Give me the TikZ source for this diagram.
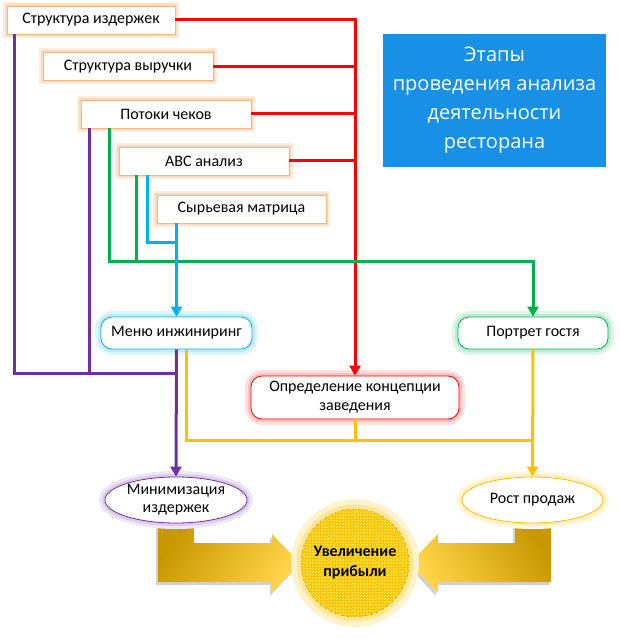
\documentclass[tikz,border=0pt]{standalone}
\usepackage{fontspec}
\setmainfont{Carlito}
\newfontfamily\titlefont{Open Sans}
\usetikzlibrary{arrows.meta,patterns,calc,shapes.geometric}
\definecolor{cOrange}{HTML}{F79646}
\definecolor{cRed}{HTML}{FF0000}
\definecolor{cPurple}{HTML}{7030A0}
\definecolor{cGreen}{HTML}{00B050}
\definecolor{cCyan}{HTML}{00B0F0}
\definecolor{cGold}{HTML}{FFC000}
\definecolor{cDarkGold}{HTML}{C89800}
\definecolor{cLightGold}{HTML}{FFD54A}
\definecolor{cTitle}{HTML}{1890E6}
\tikzset{
  x=1pt, y=-1pt,
  srcbox/.style={draw=cOrange!70, line width=0.8pt, fill=white,
    preaction={draw=cOrange!18, line width=8pt},
    preaction={draw=cOrange!35, line width=4pt},
    minimum height=28pt, minimum width=170pt, inner sep=0pt, font=\fontsize{16}{18}\selectfont},
  term/.style={rounded corners=11pt, fill=white, line width=0.8pt, inner sep=0pt,
    minimum height=32pt, font=\fontsize{16}{18}\selectfont},
  oval/.style={ellipse, fill=white, line width=0.8pt, inner sep=0pt,
    minimum height=46pt, minimum width=142pt, font=\fontsize{16}{18}\selectfont, align=center},
  glow/.style={preaction={draw=#1!12, line width=12pt}, preaction={draw=#1!25, line width=6pt}},
  conn/.style={line width=3pt},
  tip/.style={-{Triangle[width=11pt,length=10pt]}},
  bigarrow/.style={top color=cDarkGold, middle color=cGold, bottom color=cLightGold, shading angle=#1},
  arrowshadow/.style={fill=black, opacity=0.18},
}
\begin{document}
\begin{tikzpicture}
\useasboundingbox (0,0) rectangle (620,639);

% title
\node[fill=cTitle, minimum width=223pt, minimum height=133pt, text=white, align=center,
  font=\titlefont\fontsize{20}{29}\selectfont] (title) at (494.5,100.5)
  {Этапы\\проведения анализа\\деятельности\\ресторана};

% source boxes
\node[srcbox, minimum width=168pt] (b1) at (91,20) {Структура издержек};
\node[srcbox] (b2) at (128,66.5) {Структура выручки};
\node[srcbox] (b3) at (166,114) {Потоки чеков};
\node[srcbox] (b4) at (204,161) {ABC анализ};
\node[srcbox, minimum width=169pt] (b5) at (241.5,209) {Сырьевая матрица};

% targets
\node[term, draw=cCyan, glow=cCyan, minimum width=151pt] (menu) at (176.5,333) {Меню инжиниринг};
\node[term, draw=cGreen, glow=cGreen, minimum width=150pt] (guest) at (533,333) {Портрет гостя};
\node[term, draw=cRed, glow=cRed, minimum width=208pt, minimum height=43pt, align=center,
  font=\fontsize{16}{19}\selectfont] (concept) at (355,397.5) {Определение концепции\\заведения};

% big arrows (shadow + shaded body)
\fill[arrowshadow, xshift=-2pt, yshift=-3pt]
  (158,523) -- (194,523) -- (194,543) -- (272,543) -- (272,534) -- (300,563)
  -- (272,593) -- (272,582) -- (158,582) -- cycle;
\shade[bigarrow=60]
  (158,523) -- (194,523) -- (194,543) -- (272,543) -- (272,534) -- (300,563)
  -- (272,593) -- (272,582) -- (158,582) -- cycle;
\fill[arrowshadow, xshift=-2pt, yshift=-3pt]
  (551,523) -- (515,523) -- (515,543) -- (438,543) -- (438,534) -- (410,563)
  -- (438,593) -- (438,582) -- (551,582) -- cycle;
\shade[bigarrow=-60]
  (551,523) -- (515,523) -- (515,543) -- (438,543) -- (438,534) -- (410,563)
  -- (438,593) -- (438,582) -- (551,582) -- cycle;

\node[oval, draw=cPurple, glow=cPurple] (minim) at (176,500) {Минимизация\\издержек};
\node[oval, draw=cGold, glow=cGold, minimum width=141pt] (sales) at (532.5,500) {Рост продаж};

\node[circle, minimum size=108pt, fill=cGold, draw=cDarkGold, dashed, line width=0.5pt,
  preaction={draw=cGold!20, line width=20pt, solid},
  preaction={draw=cGold!40, line width=9pt, solid},
  postaction={pattern=north east lines, pattern color=yellow!50!white},
  align=center, font=\bfseries\fontsize{16}{20}\selectfont] (profit) at (355,563)
  {Увеличение\\прибыли};

% red connectors
\draw[conn, cRed, tip] (b1.east) -| (concept.north);
\foreach \b in {b2,b3,b4} \draw[conn, cRed] (\b.east) -- (\b.east -| concept.north);

% purple
\coordinate (pj) at (176.5,373);
\draw[conn, cPurple] ([xshift=8pt]b1.south west) |- (pj);
\draw[conn, cPurple] ([xshift=9pt]b3.south west) -- ([xshift=9pt]b3.south west |- pj);
\draw[conn, cPurple, tip] (menu.south) -- (minim.north);

% green
\coordinate (gj) at (110,261);
\draw[conn, cGreen, tip] ([xshift=29pt]b3.south west) |- (gj) -| (guest.north);
\draw[conn, cGreen] ([xshift=18pt]b4.south west) -- ([xshift=18pt]b4.south west |- gj);

% cyan
\draw[conn, cCyan] ([xshift=29pt]b4.south west) |- (menu.north |- 0,242);
\draw[conn, cCyan, tip] (menu.north |- b5.south) -- (menu.north);

% yellow
\coordinate (yj) at (0,440);
\draw[conn, cGold] ([xshift=10pt]menu.south) |- (guest.south |- yj);
\draw[conn, cGold] (concept.south) -- (concept.south |- yj);
\draw[conn, cGold, tip] (guest.south) -- (sales.north);
\end{tikzpicture}
\end{document}
